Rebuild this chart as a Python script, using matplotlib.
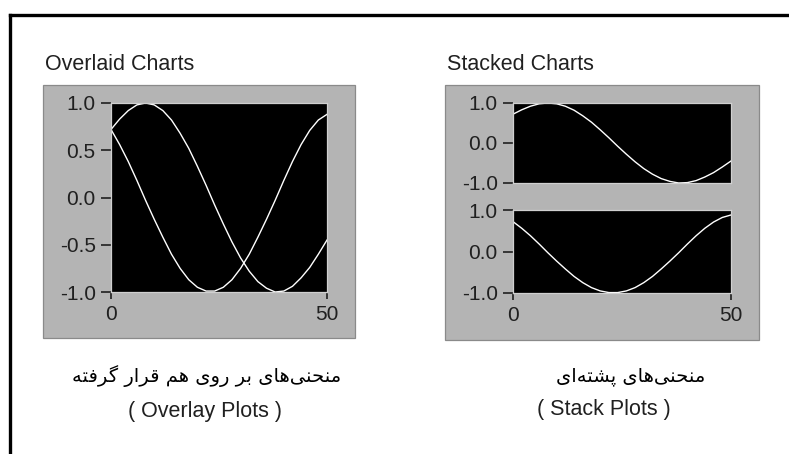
import matplotlib.pyplot as plt
from matplotlib.patches import Rectangle
from matplotlib.lines import Line2D

W, H = 789, 454

# samples
x = [0, 2, 4, 6, 8, 10, 12, 14, 16, 18, 20, 22, 24, 26, 28, 30, 32, 34, 36, 38, 40, 42, 44, 46, 48, 50]
plot_a = [0.72, 0.83, 0.92, 0.98, 1.0, 0.98, 0.92, 0.82, 0.68, 0.52, 0.33, 0.13, -0.08, -0.28, -0.47,
          -0.64, -0.78, -0.89, -0.96, -1.0, -0.99, -0.94, -0.85, -0.74, -0.60, -0.45]
plot_b = [0.72, 0.56, 0.38, 0.18, -0.03, -0.23, -0.42, -0.60, -0.75, -0.87, -0.95, -0.99, -0.99, -0.95,
          -0.87, -0.75, -0.60, -0.42, -0.23, -0.03, 0.18, 0.38, 0.56, 0.71, 0.82, 0.88]

overlay_yticks = [-1.0, -0.5, 0.0, 0.5, 1.0]
stack_yticks = [-1.0, 0.0, 1.0]
xticks = [0, 50]

title_left = "Overlaid Charts"
title_right = "Stacked Charts"
caption_left = "منحنی\u200cهای بر روی هم قرار گرفته"
caption_right = "منحنی\u200cهای پشته\u200cای"
sub_left = "( Overlay Plots )"
sub_right = "( Stack Plots )"

# minimal persian shaping (matplotlib has no bidi / joining support)
# right-joining letters: (isolated, final); dual-joining: (isolated, final, initial, medial)
FORMS = {
    'ا': ('\uFE8D', '\uFE8E'),
    'ر': ('\uFEAD', '\uFEAE'),
    'و': ('\uFEED', '\uFEEE'),
    'ب': ('\uFE8F', '\uFE90', '\uFE91', '\uFE92'),
    'پ': ('\uFB56', '\uFB57', '\uFB58', '\uFB59'),
    'ت': ('\uFE95', '\uFE96', '\uFE97', '\uFE98'),
    'ح': ('\uFEA1', '\uFEA2', '\uFEA3', '\uFEA4'),
    'ش': ('\uFEB5', '\uFEB6', '\uFEB7', '\uFEB8'),
    'ف': ('\uFED1', '\uFED2', '\uFED3', '\uFED4'),
    'ق': ('\uFED5', '\uFED6', '\uFED7', '\uFED8'),
    'گ': ('\uFB92', '\uFB93', '\uFB94', '\uFB95'),
    'م': ('\uFEE1', '\uFEE2', '\uFEE3', '\uFEE4'),
    'ن': ('\uFEE5', '\uFEE6', '\uFEE7', '\uFEE8'),
    'ه': ('\uFEE9', '\uFEEA', '\uFEEB', '\uFEEC'),
    'ی': ('\uFBFC', '\uFBFD', '\uFBFE', '\uFBFF'),
}


def shape(s):
    out = []
    for i, c in enumerate(s):
        if c == '\u200c':
            continue
        if c not in FORMS:
            out.append(c)
            continue
        prev = s[i - 1] if i > 0 else None
        nxt = s[i + 1] if i + 1 < len(s) else None
        jp = prev in FORMS and len(FORMS[prev]) == 4
        f = FORMS[c]
        if len(f) == 2:
            out.append(f[1] if jp else f[0])
            continue
        jn = nxt in FORMS
        if jp and jn:
            out.append(f[3])
        elif jn:
            out.append(f[2])
        elif jp:
            out.append(f[1])
        else:
            out.append(f[0])
    return ''.join(reversed(out))


plt.rcParams['font.family'] = ['Liberation Sans', 'DejaVu Sans']
fig = plt.figure(figsize=(W / 100, H / 100), dpi=100)
fig.patch.set_facecolor('white')


def box(x0, y0, x1, y1):
    return [x0 / W, 1 - y1 / H, (x1 - x0) / W, (y1 - y0) / H]


def fx(v):
    return v / W


def fy(v):
    return 1 - v / H


# outer frame
fig.add_artist(Line2D([fx(9.5), 1.0], [fy(14.5), fy(14.5)], color='black', lw=2.4))
fig.add_artist(Line2D([fx(9.5), fx(9.5)], [fy(14.5), 0], color='black', lw=2.4))

# gray panels (behind the axes)
for x0, y0, x1, y1 in [(43, 85, 355, 338), (445, 85, 759, 340)]:
    fig.add_artist(Rectangle((fx(x0), fy(y1)), fx(x1 - x0), (y1 - y0) / H,
                             facecolor='#b4b4b4', edgecolor='#8a8a8a', lw=0.9, zorder=-5))


def style(ax, yticks, show_x):
    ax.set_facecolor('black')
    ax.set_xlim(0, 50)
    ax.set_ylim(-1.0, 1.0)
    ax.set_yticks(yticks)
    ax.set_yticklabels(['%.1f' % v for v in yticks])
    for s in ax.spines.values():
        s.set_color('#d0d0d0')
        s.set_linewidth(0.9)
    ax.tick_params(axis='y', direction='out', length=7.5, width=1.2, color='#202020',
                   pad=3.5, labelsize=15, labelcolor='#202020')
    if show_x:
        ax.set_xticks(xticks)
        ax.tick_params(axis='x', direction='out', length=5, width=1.2, color='#202020',
                       pad=4.5, labelsize=15, labelcolor='#202020')
    else:
        ax.set_xticks([])


ax1 = fig.add_axes(box(111, 103, 327, 292))
ax1.plot(x, plot_a, color='white', lw=1.0)
ax1.plot(x, plot_b, color='white', lw=1.0)
style(ax1, overlay_yticks, True)

ax2 = fig.add_axes(box(513, 103, 731, 183))
ax2.plot(x, plot_a, color='white', lw=1.0)
style(ax2, stack_yticks, False)

ax3 = fig.add_axes(box(513, 210, 731, 293))
ax3.plot(x, plot_b, color='white', lw=1.0)
style(ax3, stack_yticks, True)

fig.text(fx(45), fy(64), title_left, fontsize=15.5, color='#202020', va='center', ha='left')
fig.text(fx(447), fy(64), title_right, fontsize=15.5, color='#202020', va='center', ha='left')

fig.text(fx(207), fy(376), shape(caption_left), fontsize=14, color='black', va='center', ha='center',
         family=['DejaVu Sans'])
fig.text(fx(631), fy(376), shape(caption_right), fontsize=14, color='black', va='center', ha='center',
         family=['DejaVu Sans'])
fig.text(fx(205), fy(411), sub_left, fontsize=15.5, color='#202020', va='center', ha='center')
fig.text(fx(604), fy(410), sub_right, fontsize=15.5, color='#202020', va='center', ha='center')

fig.savefig('out.png', dpi=100, facecolor='white')
